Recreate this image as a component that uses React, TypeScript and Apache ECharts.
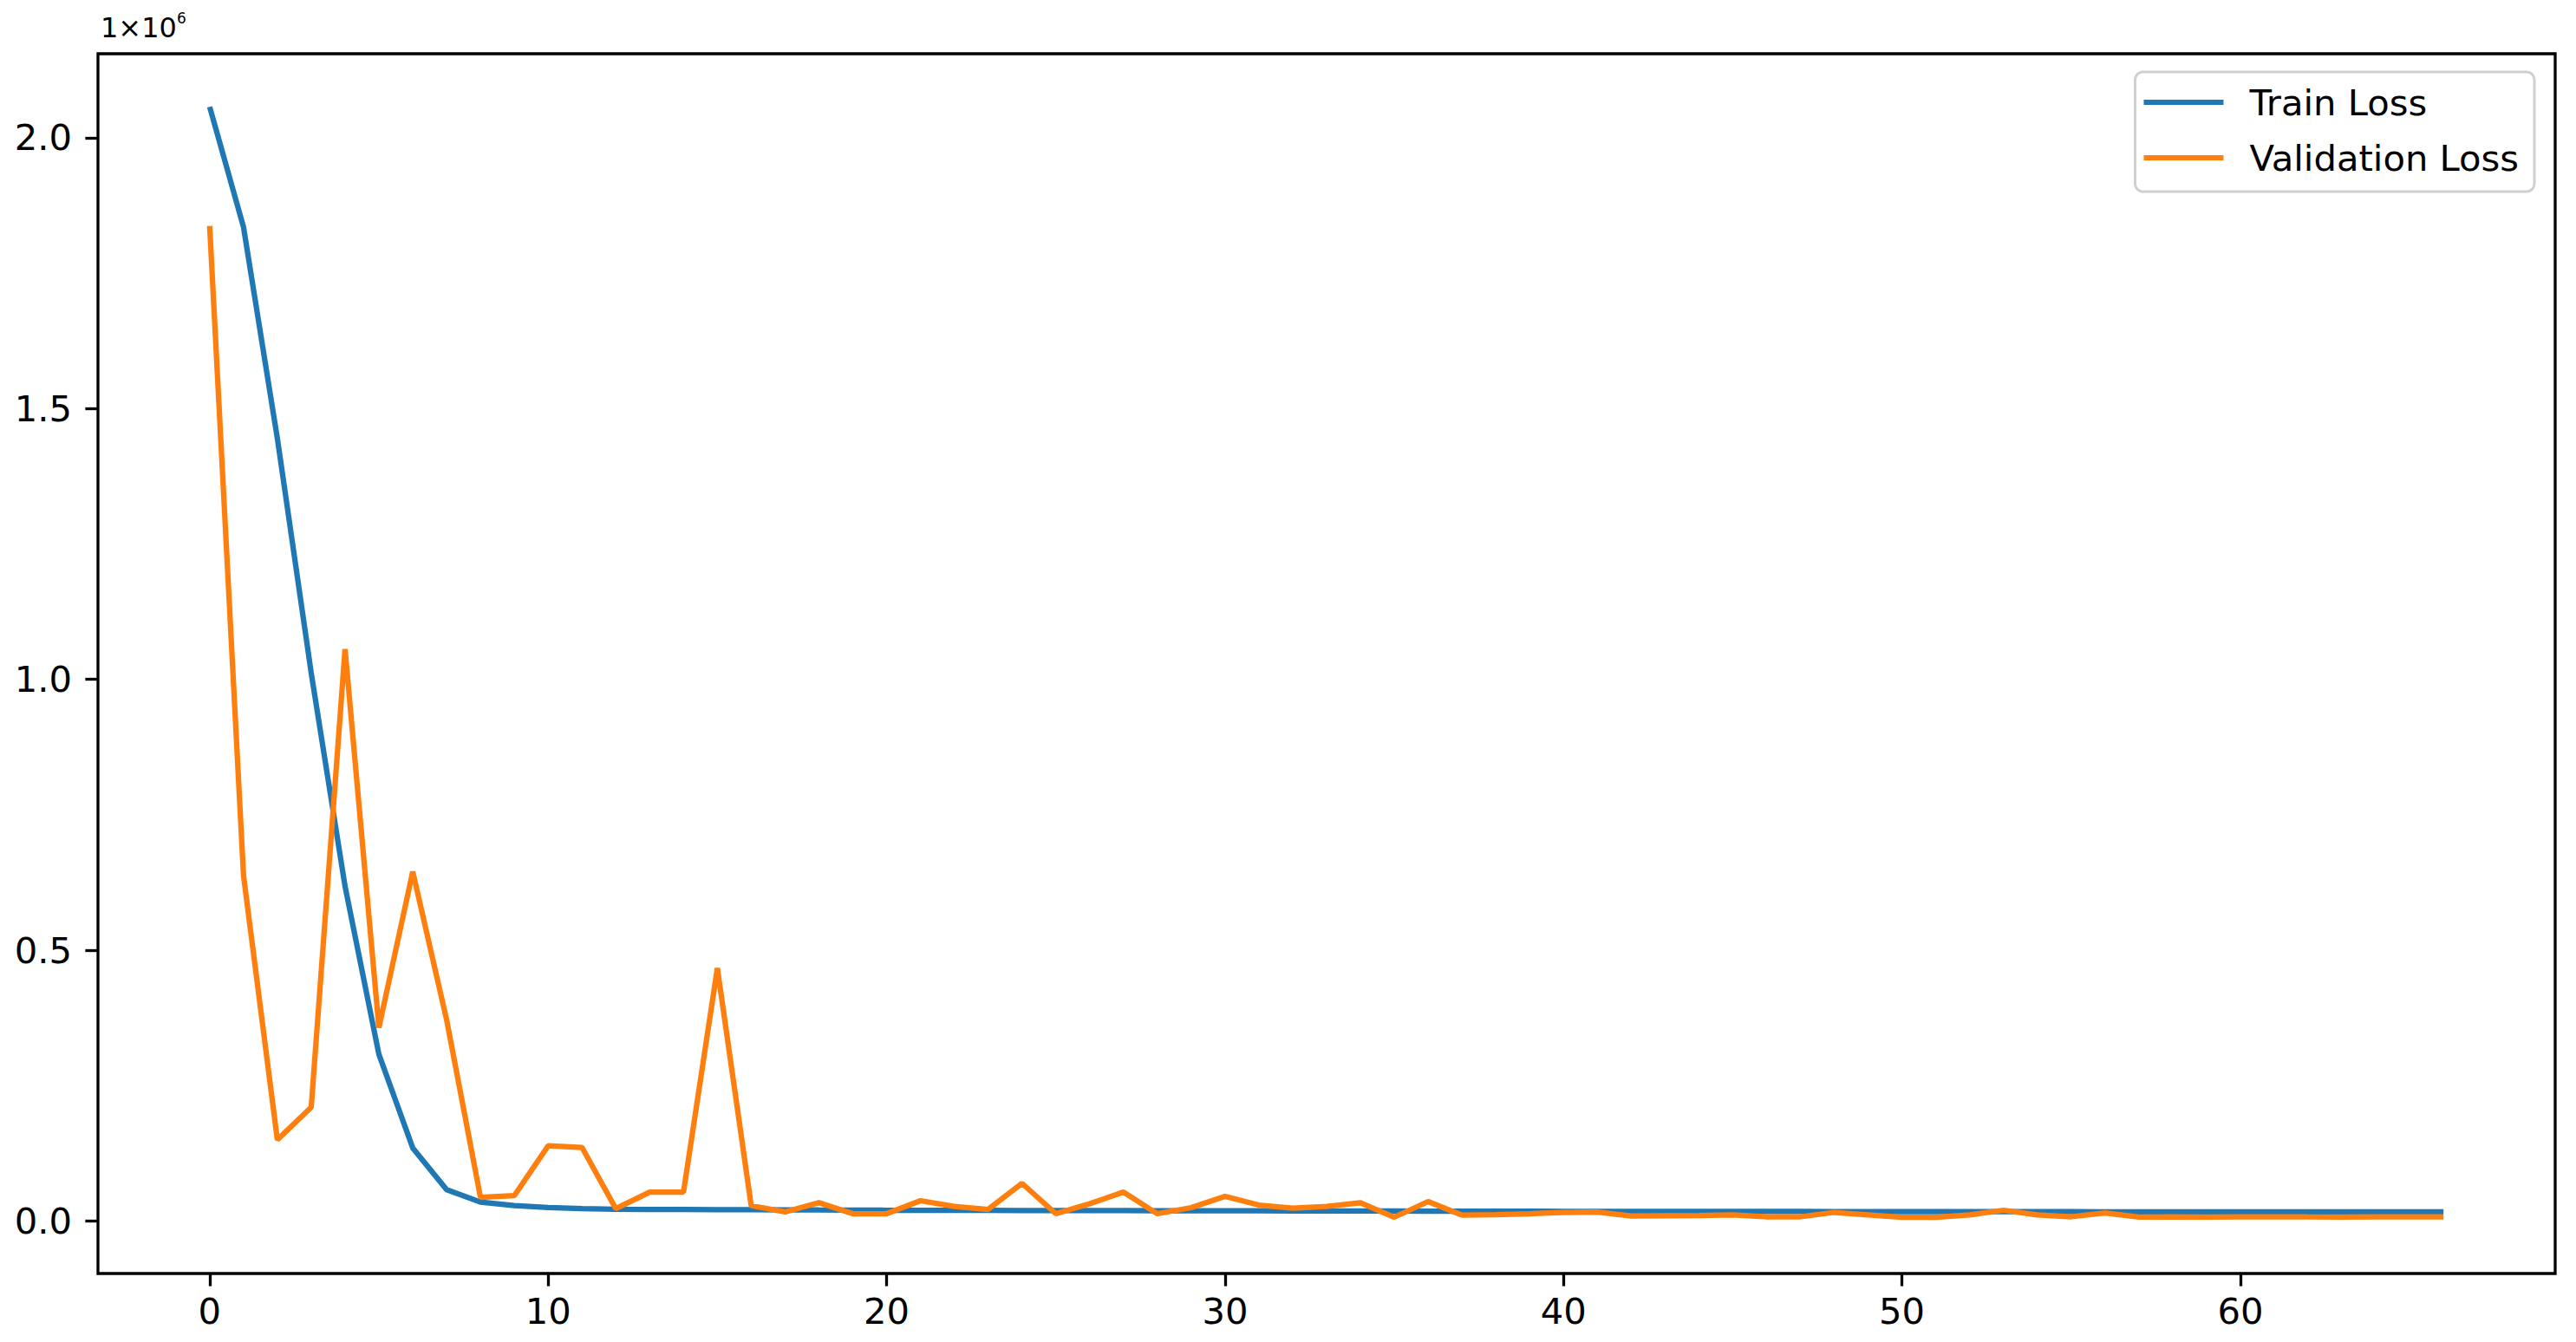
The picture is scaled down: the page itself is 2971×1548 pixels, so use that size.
import React, { useEffect, useRef } from "react";
import * as echarts from "echarts";

const epochs: number[] = [
  0, 1, 2, 3, 4, 5, 6, 7, 8, 9, 10, 11, 12, 13, 14, 15, 16, 17, 18, 19, 20, 21, 22,
  23, 24, 25, 26, 27, 28, 29, 30, 31, 32, 33, 34, 35, 36, 37, 38, 39, 40, 41, 42, 43,
  44, 45, 46, 47, 48, 49, 50, 51, 52, 53, 54, 55, 56, 57, 58, 59, 60, 61, 62, 63, 64,
  65, 66,
];

const trainLoss: number[] = [
  2057000, 1835000, 1445000, 1012000, 618000, 308000, 135000, 58000, 35000, 28500,
  25000, 23000, 22000, 21500, 21500, 21000, 21000, 20800, 20500, 20300, 20000, 19900,
  19800, 19700, 19600, 19500, 19400, 19300, 19200, 19100, 19000, 18900, 18800, 18700,
  18600, 18500, 18400, 18300, 18200, 18100, 18000, 17950, 17900, 17850, 17800, 17750,
  17700, 17650, 17600, 17550, 17500, 17450, 17400, 17350, 17300, 17250, 17200, 17150,
  17100, 17050, 17000, 17000, 16950, 16950, 16900, 16900, 16850,
];

const valLoss: number[] = [
  1837000, 638000, 150000, 210000, 1056000, 357000, 645000, 372000, 44000, 47000,
  139000, 136000, 23000, 53500, 53500, 467000, 28500, 17000, 34000, 13600, 13600,
  37600, 27000, 21600, 69600, 13600, 32000, 53600, 13600, 24800, 45600, 29600, 24000,
  27000, 34000, 7200, 36000, 11000, 12000, 13600, 16000, 16500, 9300, 9900, 10400,
  11500, 8000, 8000, 16000, 11500, 7000, 7000, 11500, 20000, 11500, 8000, 15000, 7500,
  7800, 7600, 7800, 7900, 7700, 7600, 7800, 7700, 7800,
];

const seriesNames: string[] = ["Train Loss", "Validation Loss"];
const xTicks: number[] = [0, 10, 20, 30, 40, 50, 60];
const yTicks: number[] = [0, 500000, 1000000, 1500000, 2000000];
const offsetLabel = "1×10";
const offsetExp = "6";

const FONT = "DejaVu Sans";

export default function App() {
  const ref = useRef<HTMLDivElement>(null);
  useEffect(() => {
    if (!ref.current) return;
    const chart = echarts.init(ref.current, null, { renderer: "svg" });
    const tickStyle = { color: "#000", width: 3.3 };
    chart.setOption({
      animation: false,
      backgroundColor: "#ffffff",
      grid: {
        left: 113,
        right: 24,
        top: 62,
        bottom: 79,
        show: true,
        borderColor: "#000",
        borderWidth: 3.3,
        backgroundColor: "transparent",
      },
      xAxis: {
        type: "value",
        min: -3.3,
        max: 69.3,
        splitLine: { show: false },
        axisLine: { show: false, onZero: false },
        axisTick: { show: true, customValues: xTicks, length: 14.6, lineStyle: tickStyle },
        axisLabel: {
          customValues: xTicks,
          margin: 22,
          fontSize: 41.7,
          fontFamily: FONT,
          color: "#000",
          showMinLabel: true,
          showMaxLabel: true,
        },
      },
      yAxis: {
        type: "value",
        min: -96800,
        max: 2155000,
        splitLine: { show: false },
        axisLine: { show: false, onZero: false },
        axisTick: { show: true, customValues: yTicks, length: 14.6, lineStyle: tickStyle },
        axisLabel: {
          customValues: yTicks,
          margin: 30,
          fontSize: 41.7,
          fontFamily: FONT,
          color: "#000",
          formatter: (v: number) => (v / 1000000).toFixed(1),
        },
      },
      legend: {
        orient: "vertical",
        right: 48,
        top: 83,
        backgroundColor: "rgba(255,255,255,0.8)",
        borderColor: "#d0d0d0",
        borderWidth: 3,
        borderRadius: 9,
        padding: [10, 18, 14, 10],
        itemWidth: 92,
        itemHeight: 6,
        itemGap: 14,
        icon: "rect",
        textStyle: {
          fontSize: 41.7,
          fontFamily: FONT,
          color: "#000",
          lineHeight: 50,
          padding: [0, 0, 0, 25],
        },
        data: seriesNames,
      },
      graphic: [
        {
          type: "text",
          left: 116,
          top: 16,
          style: { text: offsetLabel, fontSize: 32, fontFamily: FONT, fill: "#000" },
        },
        {
          type: "text",
          left: 204,
          top: 12,
          style: { text: offsetExp, fontSize: 17, fontFamily: FONT, fill: "#000" },
        },
      ],
      series: [
        {
          name: seriesNames[0],
          type: "line",
          data: epochs.map((e, i) => [e, trainLoss[i]]),
          showSymbol: false,
          symbol: "none",
          color: "#1f77b4",
          lineStyle: { width: 6.25, color: "#1f77b4" },
        },
        {
          name: seriesNames[1],
          type: "line",
          data: epochs.map((e, i) => [e, valLoss[i]]),
          showSymbol: false,
          symbol: "none",
          color: "#ff7f0e",
          lineStyle: { width: 6.25, color: "#ff7f0e" },
        },
      ],
    });
    return () => chart.dispose();
  }, []);
  return (
    <div
      ref={ref}
      style={{ position: "fixed", left: 0, top: 0, width: 2971, height: 1548, background: "#fff" }}
    />
  );
}
